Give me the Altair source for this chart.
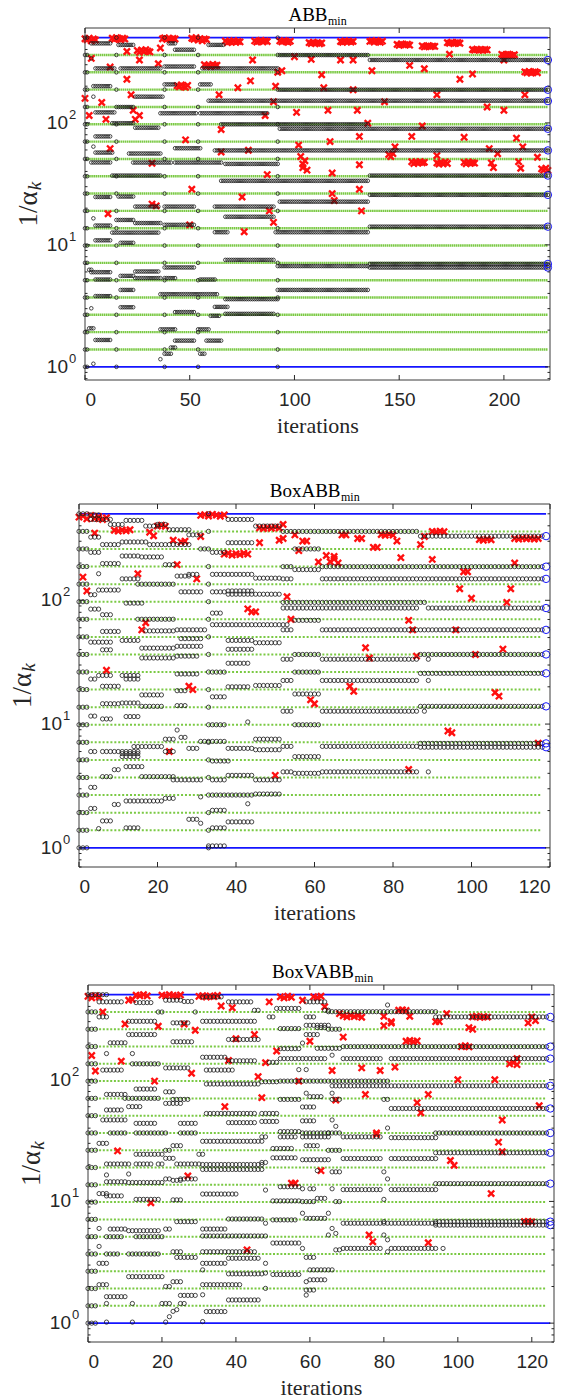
import altair as alt
import pandas as pd

alt.data_transformers.disable_max_rows()

# Spectrum of the Hessian: lambda_min = 1 ... lambda_max = 500
eigs = [1, 1.387, 1.925, 2.670, 3.700, 5.133, 7.120, 9.871, 13.69, 18.99,
        26.34, 36.52, 50.64, 70.25, 97.43, 135.1, 187.4, 259.9, 360.5, 500]

y_major = [1, 10, 100]
y_exps = ["0", "1", "2"]
y_minor = [0.7, 0.8, 0.9, 2, 3, 4, 5, 6, 7, 8, 9,
           20, 30, 40, 50, 60, 70, 80, 90, 200, 300, 400, 500]

# ---------------- ABB_min ----------------
# Ritz-like values: (first iteration, last iteration, value)
p1_runs = [
    (3, 12, 449), (5, 14, 280), (4, 12, 200), (5, 14, 122), (5, 12, 77.5),
    (5, 13, 57.1), (3, 12, 47.4), (3, 3, 338), (4, 4, 164), (4, 4, 63.9),
    (5, 12, 24.7), (5, 12, 14.4), (5, 12, 10.9), (3, 12, 5.97), (2, 3, 6.25),
    (5, 12, 5.2), (5, 12, 3.8), (5, 12, 1.66), (2, 4, 2.07), (3, 3, 3.02),
    (4, 4, 16.5), (4, 4, 1.06),
    (16, 23, 436), (17, 36, 280), (24, 37, 164), (16, 23, 135), (13, 23, 99.4),
    (24, 35, 91.3), (21, 36, 56.1), (23, 41, 47.3), (13, 36, 37.0),
    (16, 23, 24.9), (24, 35, 20.6), (15, 23, 16.0), (24, 36, 15.1), (13, 35, 12.6),
    (17, 23, 10.4), (24, 35, 6.05), (17, 23, 5.57), (24, 36, 5.34), (17, 23, 4.27),
    (17, 23, 3.08),
    (40, 43, 449), (43, 52, 398), (38, 52, 290), (38, 43, 207), (36, 53, 120),
    (43, 55, 62.0), (43, 65, 47.3), (38, 52, 20.6), (38, 52, 14.6), (38, 52, 6.53),
    (38, 43, 5.34), (36, 63, 3.94), (43, 52, 2.81), (36, 43, 2.03), (43, 52, 1.64),
    (41, 43, 1.44), (38, 41, 1.28), (36, 36, 1.155),
    (59, 66, 436), (56, 92, 280), (55, 60, 207), (59, 221, 152), (55, 87, 120),
    (65, 135, 97.4), (62, 221, 59.5), (67, 92, 46.1), (65, 135, 33.5),
    (62, 90, 20.6), (67, 90, 17.0), (62, 68, 12.7), (67, 90, 7.53), (55, 62, 5.2),
    (67, 92, 3.59), (62, 68, 3.1), (67, 90, 2.72), (60, 64, 2.62), (54, 59, 2.03),
    (58, 65, 1.64), (55, 57, 1.28),
    (93, 135, 360), (93, 221, 187), (93, 221, 89.5), (93, 135, 22.6),
    (91, 135, 12.7), (92, 135, 6.7), (92, 135, 4.27),
    (136, 221, 328), (136, 221, 37.0), (136, 221, 25.7), (136, 221, 14.1),
    (136, 221, 6.98), (136, 221, 6.52),
]
# iterations at which the whole spectrum is shown
p1_full = [0, 1, 15, 38, 54, 92]
# steplengths 1/alpha_k: (iteration, value)
p1_steps = [
    (0, 490), (1, 480), (2, 495), (3, 470), (4, 488), (5, 478),
    (13, 495), (14, 485), (15, 500), (16, 490), (17, 480), (18, 495), (19, 488),
    (37, 490), (38, 498), (39, 485), (40, 495), (41, 480), (42, 492), (43, 488),
    (51, 495), (52, 485), (53, 500), (54, 478), (55, 490), (56, 470), (57, 488), (58, 482),
    (67, 470), (68, 455), (69, 465), (70, 460), (71, 472), (72, 458), (73, 466), (74, 462),
    (81, 470), (82, 460), (83, 468), (84, 475), (85, 462), (86, 470), (87, 465),
    (93, 470), (94, 462), (95, 472), (96, 466), (97, 458), (98, 468),
    (107, 455), (108, 448), (109, 458), (110, 450), (111, 455), (112, 446), (113, 452),
    (122, 465), (123, 458), (124, 470), (125, 462), (126, 468), (127, 460), (128, 466),
    (136, 466), (137, 470), (138, 460), (139, 472), (140, 464), (141, 458), (142, 468),
    (149, 440), (150, 432), (151, 445), (152, 438), (153, 436), (154, 442), (155, 434),
    (161, 428), (162, 420), (163, 425), (164, 430), (165, 422), (166, 426), (167, 424),
    (173, 455), (174, 450), (175, 458), (176, 448), (177, 452), (178, 456), (179, 450),
    (185, 400), (186, 395), (187, 402), (188, 396), (189, 398), (190, 394), (191, 400), (192, 397),
    (199, 365), (200, 358), (201, 362), (202, 366), (203, 360), (204, 356), (205, 362),
    (210, 262), (211, 258), (212, 264), (213, 256), (214, 260), (215, 263), (216, 258),
    (3, 338), (20, 385), (25, 392), (26, 380), (27, 395), (28, 385), (29, 398), (30, 388),
    (31, 382), (26, 328), (35, 306), (36, 411),
    (57, 300), (58, 292), (59, 298), (60, 290), (61, 302), (62, 295), (63, 297),
    (80, 328), (92, 260), (20, 228), (79, 221), (0, 159), (8, 147), (12, 287), (22, 170),
    (44, 202), (45, 198), (46, 205), (47, 200), (48, 196), (49, 203),
    (73, 194), (91, 200), (64, 170), (90, 149), (2, 115), (10, 107), (23, 127), (24, 107),
    (26, 115), (65, 88.3), (86, 115), (48, 72.6), (12, 61.6), (65, 57.7), (78, 59.7),
    (32, 46.7), (51, 28.6), (75, 24.7), (87, 37.7), (11, 18.0), (32, 21.6), (34, 20.9),
    (88, 19.0), (50, 14.6), (76, 12.8), (90, 15.3),
    (100, 349), (108, 332), (122, 328), (128, 328), (200, 328), (174, 366),
    (94, 268), (113, 248), (137, 268), (155, 296), (162, 278), (179, 228), (185, 252),
    (114, 194), (128, 187), (168, 170), (210, 170), (143, 149), (192, 135),
    (101, 122), (116, 127), (130, 127), (200, 127), (135, 99.4), (161, 94.3),
    (102, 65.8), (117, 70.3), (131, 77.5), (156, 77.5), (181, 76.2), (206, 75.0),
    (148, 63.6), (145, 55), (146, 53), (147, 56), (168, 54), (193, 61.6), (197, 55.9),
    (209, 63.6), (216, 52.3), (103, 53), (104, 46), (105, 49), (106, 41), (104, 43),
    (156, 48), (157, 46.5), (158, 47.8), (159, 46.8), (160, 48.2), (161, 47), (162, 47.5),
    (168, 47), (169, 46), (170, 47.5), (171, 46.2), (172, 47.8), (173, 46.5),
    (181, 47.5), (182, 46.3), (183, 47.8), (184, 46.6), (185, 47.2), (186, 46.8),
    (194, 47), (195, 43), (207, 48), (208, 42.5), (131, 45.4), (118, 38.8),
    (218, 42), (219, 41), (220, 42.5), (221, 40.8),
    (118, 26.3), (119, 23.1), (131, 28.6), (132, 19.0),
]
p1_final = [328, 187, 151, 89.5, 59.5, 37.0, 25.7, 14.1, 6.98, 6.52]

# ---------------- BoxABB_min ----------------
p2_runs = [
    (3, 5, 490), (3, 8, 450), (8, 11, 410), (12, 16, 442), (17, 20, 398), (20, 22, 410),
    (23, 28, 372), (3, 5, 324), (28, 31, 338), (6, 10, 282), (11, 17, 296), (18, 23, 282),
    (24, 28, 282), (31, 32, 260), (34, 37, 244), (3, 5, 244), (11, 15, 228), (16, 21, 224),
    (6, 10, 198), (22, 24, 194), (5, 5, 164), (25, 28, 157), (28, 30, 162), (34, 44, 162),
    (45, 51, 151), (11, 15, 149), (15, 24, 135), (3, 4, 111), (5, 10, 121), (26, 31, 117),
    (34, 37, 117), (38, 44, 119), (38, 44, 112), (45, 51, 112), (12, 16, 94.9), (3, 5, 84.9),
    (6, 8, 76.5), (15, 24, 70.3), (34, 36, 78.8), (34, 53, 63.5), (6, 10, 56.0), (17, 24, 56.6),
    (25, 32, 57.7), (3, 8, 45.9), (11, 15, 47.4), (26, 31, 49.0), (6, 8, 39.8), (16, 24, 41.1),
    (25, 31, 42.5), (16, 24, 34.2), (25, 30, 35.4), (38, 44, 292), (38, 44, 450), (45, 51, 398),
    (38, 44, 47.4), (38, 44, 40.2), (38, 43, 31.0), (45, 51, 45.4),
    (52, 86, 360), (87, 118, 330), (55, 61, 260), (52, 54, 187), (62, 118, 187), (55, 61, 177),
    (52, 54, 149), (62, 118, 149), (52, 86, 96.2), (52, 86, 86.6), (89, 118, 86.6),
    (87, 88, 96.2), (55, 61, 68.9), (52, 54, 57.7), (62, 118, 57.7), (55, 61, 36.5),
    (87, 118, 36.5), (52, 54, 33.4), (62, 86, 33.4), (89, 89, 33.4), (55, 61, 26.3),
    (87, 118, 25.7), (52, 54, 22.5), (62, 86, 22.5), (89, 89, 22.5), (55, 61, 17.5),
    (87, 118, 13.9), (52, 54, 12.7), (62, 86, 12.7), (88, 88, 12.7), (55, 61, 9.87),
    (52, 54, 6.6), (62, 86, 6.6), (87, 118, 6.98), (87, 118, 6.5), (55, 61, 5.46),
    (52, 54, 4.11), (62, 86, 4.11), (89, 89, 4.11), (55, 61, 4.0),
    (5, 8, 24.7), (3, 4, 23.1), (11, 15, 24.7), (12, 15, 23.1), (25, 30, 25.4), (34, 37, 26.3),
    (6, 10, 20.2), (16, 21, 17.2), (25, 27, 18.6), (34, 37, 16.6), (38, 43, 20.0), (45, 51, 20.5),
    (6, 10, 14.6), (11, 15, 14.8), (16, 21, 13.9), (25, 27, 14.1), (3, 4, 11.6), (12, 15, 11.5),
    (6, 8, 11.0), (34, 37, 9.87), (43, 43, 10.4), (25, 25, 8.95), (22, 24, 7.55), (26, 27, 7.81),
    (31, 37, 7.24), (45, 51, 7.55), (14, 21, 6.58), (28, 30, 6.36), (38, 44, 6.36), (3, 4, 6.0),
    (6, 10, 6.0), (11, 15, 6.0), (11, 15, 5.77), (11, 15, 5.46), (22, 24, 6.0), (45, 51, 6.2),
    (34, 38, 5.03), (12, 16, 4.53), (9, 10, 4.28), (6, 8, 3.76), (16, 24, 3.76), (24, 31, 3.54),
    (34, 37, 3.54), (38, 44, 3.85), (45, 51, 3.54), (3, 4, 3.08), (34, 37, 2.67), (38, 44, 2.67),
    (45, 51, 2.72), (31, 31, 2.58), (12, 21, 2.39), (22, 24, 2.51), (9, 10, 2.24), (3, 4, 2.08),
    (34, 37, 2.01), (43, 43, 2.27), (6, 8, 1.65), (28, 30, 1.70), (38, 44, 1.62), (12, 15, 1.45),
    (31, 31, 1.58), (34, 37, 1.45), (5, 5, 1.43), (33, 37, 1.036),
]
p2_full = [0, 1, 2, 33]
p2_steps = [
    (0, 470), (1, 480), (2, 455), (3, 485), (4, 460), (5, 475), (6, 450), (7, 465),
    (31, 485), (32, 492), (33, 480), (34, 495), (35, 488), (36, 478), (37, 490),
    (9, 368), (10, 362), (11, 370), (12, 365), (13, 372),
    (46, 385), (47, 380), (48, 388), (49, 382), (50, 390), (51, 384),
    (18, 355), (19, 332), (20, 398), (21, 404), (22, 396), (24, 306), (26, 296), (27, 300),
    (31, 328), (4, 349), (5, 458),
    (37, 236), (38, 240), (39, 232), (40, 238), (41, 234), (42, 240), (43, 236),
    (46, 292), (51, 306), (25, 194), (15, 164), (1, 154), (2, 119), (30, 149), (43, 85.3),
    (44, 80.7), (45, 80.7), (53, 107), (54, 70.3), (17, 65.8), (16, 57.7), (7, 27.2),
    (52, 410), (55, 338), (57, 301), (58, 301), (52, 316), (67, 338), (68, 338), (71, 316),
    (72, 316), (77, 340), (78, 335), (79, 342), (80, 336), (81, 301), (87, 282), (88, 328),
    (90, 360), (91, 356), (92, 362), (93, 358),
    (102, 310), (103, 306), (104, 312), (105, 308),
    (111, 316), (112, 312), (113, 318), (114, 314), (115, 317), (116, 313), (117, 316),
    (56, 252), (75, 268), (76, 268), (82, 221), (90, 214), (61, 204), (63, 230), (64, 205),
    (65, 215), (66, 200), (65, 226), (111, 200), (98, 170), (99, 170), (97, 124), (100, 104),
    (110, 124), (109, 96.2), (84, 68.9), (85, 57.7), (96, 57.7), (73, 41.4), (74, 34.2),
    (86, 35.4), (101, 36.5), (108, 40.3), (69, 20.2), (70, 18.4), (59, 15.7), (60, 14.6),
    (106, 18.0), (107, 16.8), (94, 8.8), (95, 8.5), (117, 7.0), (84, 4.3),
    (28, 20.2), (29, 19.0), (23, 6.0), (50, 3.85),
]
p2_final = [330, 187, 149, 86.6, 57.7, 36.5, 25.7, 13.9, 6.98, 6.5]

# ---------------- BoxVABB_min ----------------
p3_runs = [
    (3, 5, 500), (3, 9, 436), (13, 17, 430), (21, 25, 450), (26, 28, 439), (31, 36, 479),
    (38, 44, 436), (45, 46, 372), (51, 57, 385), (19, 20, 360), (29, 29, 360), (3, 5, 328),
    (11, 18, 302), (23, 27, 293), (31, 45, 302), (49, 50, 328), (52, 57, 263), (11, 18, 235),
    (6, 10, 201), (23, 28, 205), (38, 46, 214), (5, 5, 164), (12, 12, 164), (4, 9, 120),
    (12, 19, 135), (21, 27, 125), (31, 37, 153), (38, 45, 143), (49, 51, 139), (52, 57, 180),
    (32, 39, 120), (32, 46, 92.2), (47, 51, 96.2), (5, 10, 75.7), (13, 18, 83.8), (21, 23, 79.5),
    (23, 27, 68.9), (10, 19, 70.3), (5, 9, 56.4), (11, 14, 60.1), (21, 25, 63.9), (32, 45, 52.8),
    (38, 45, 44.4), (4, 10, 46.7), (13, 18, 43.8), (25, 29, 43.8), (47, 51, 52.8), (47, 51, 45.4),
    (3, 5, 30.0), (6, 10, 36.5), (13, 19, 36.5), (20, 21, 36.5), (25, 29, 36.5), (31, 47, 31.2),
    (47, 48, 33.9), (50, 55, 27.2), (13, 20, 24.4), (21, 22, 26.3), (23, 25, 28.7), (30, 31, 24.4),
    (5, 9, 20.3), (10, 11, 20.3), (11, 11, 16.8), (13, 17, 20.3), (19, 20, 20.3), (21, 23, 22.6),
    (24, 30, 20.3), (31, 47, 20.1), (31, 47, 18.3), (47, 48, 20.9), (50, 56, 22.8), (5, 5, 16.5),
    (3, 5, 11.6), (5, 10, 14.5), (11, 20, 14.3), (21, 22, 15.3), (23, 25, 14.9), (25, 29, 15.3),
    (31, 40, 11.5), (5, 9, 11.1), (13, 19, 10.4), (23, 25, 10.3), (48, 48, 12.4), (50, 57, 10.1),
    (3, 3, 6.0), (6, 10, 5.93), (11, 19, 5.75), (21, 22, 5.93), (24, 29, 6.82), (31, 37, 5.93),
    (38, 47, 7.17), (48, 48, 6.62), (50, 56, 7.05), (5, 9, 5.13), (13, 20, 5.13), (31, 48, 5.2),
    (3, 3, 4.27), (5, 8, 3.70), (11, 19, 3.70), (23, 25, 3.86), (24, 29, 3.47), (31, 45, 3.86),
    (31, 37, 3.1), (38, 46, 3.41), (48, 48, 3.1), (50, 57, 4.55), (3, 5, 3.1), (11, 20, 2.41),
    (21, 22, 2.0), (23, 25, 2.19), (31, 31, 2.74), (38, 47, 2.54), (48, 48, 2.58), (50, 57, 2.51),
    (3, 5, 2.07), (5, 10, 1.65), (25, 29, 1.69), (31, 41, 2.07), (38, 46, 1.55), (48, 48, 1.93),
    (5, 5, 1.45), (12, 12, 1.45), (20, 22, 1.45), (24, 24, 1.29), (25, 26, 1.45), (31, 31, 1.71),
    (32, 37, 1.245), (5, 5, 1.02), (12, 12, 1.02), (21, 21, 1.02), (22, 22, 1.13), (23, 23, 1.25),
    (31, 31, 1.03),
    (52, 56, 33.9), (58, 65, 33.9), (65, 68, 36.5), (69, 79, 33.9), (82, 94, 33.4), (94, 124, 36.5),
    (59, 62, 28.7), (94, 124, 25.1), (65, 68, 26.3), (58, 65, 22.0), (69, 79, 22.5), (82, 94, 22.5),
    (62, 62, 17.9), (66, 68, 17.5), (81, 81, 15.3), (80, 80, 17.5), (94, 124, 14.0), (52, 57, 13.2),
    (58, 58, 12.7), (60, 61, 12.7), (66, 66, 12.7), (69, 79, 12.5), (82, 94, 12.5), (80, 80, 10.4),
    (58, 61, 9.97), (62, 64, 10.6), (67, 68, 9.97), (58, 58, 8.0), (59, 64, 7.26), (65, 65, 8.0),
    (66, 66, 6.0), (69, 94, 6.62), (94, 124, 6.82), (94, 124, 6.39), (80, 80, 6.82), (58, 58, 4.11),
    (67, 68, 4.0), (65, 65, 5.3), (67, 67, 5.46), (69, 79, 4.11), (82, 94, 4.11), (96, 96, 4.11),
    (80, 80, 5.3), (81, 81, 4.84), (81, 81, 3.86), (59, 61, 3.47), (60, 66, 2.74), (60, 64, 2.27),
    (59, 59, 2.19), (59, 61, 1.87), (59, 59, 1.70),
    (59, 64, 436), (59, 61, 328), (64, 65, 372), (65, 94, 362), (94, 124, 328), (81, 81, 411),
    (59, 65, 280), (65, 68, 260), (59, 62, 235), (62, 64, 268), (58, 58, 200), (62, 68, 181),
    (69, 124, 187), (52, 57, 149), (58, 64, 149), (66, 66, 159), (69, 79, 149), (82, 124, 149),
    (57, 57, 121), (59, 59, 121), (52, 57, 97.4), (58, 65, 97.4), (66, 81, 97.4), (66, 124, 89.0),
    (52, 57, 68.9), (59, 59, 77.5), (60, 63, 72.6), (66, 66, 77.5), (58, 61, 59.7), (66, 68, 68.9),
    (80, 81, 68.9), (82, 124, 58.0), (58, 61, 45.9), (66, 66, 46.7), (52, 57, 37.5), (58, 65, 36.5),
    (67, 67, 41.4), (81, 81, 40.1),
]
p3_full = [0, 1, 2]
p3_steps = [
    (0, 484), (1, 470), (2, 490), (3, 478), (11, 450), (12, 455), (13, 495), (14, 490),
    (15, 500), (16, 488), (20, 495), (21, 488), (22, 500), (23, 492), (24, 485), (25, 497),
    (30, 484), (31, 490), (32, 478), (33, 488), (34, 482), (35, 492),
    (36, 403), (39, 390), (49, 436), (52, 480), (53, 470), (54, 485), (55, 475),
    (58, 450), (61, 480), (62, 472), (63, 485), (64, 398),
    (69, 335), (70, 328), (71, 338), (72, 330), (73, 336), (74, 326), (68, 349), (80, 332),
    (82, 300), (84, 372), (85, 375), (86, 370), (87, 332), (94, 300), (95, 300), (97, 349),
    (104, 328), (105, 332), (106, 325), (107, 330), (108, 327), (119, 293), (120, 328),
    (121, 306), (80, 278), (82, 292), (103, 268), (104, 260), (69, 224), (60, 207),
    (86, 207), (87, 210), (88, 205), (89, 208), (101, 187), (102, 190), (103, 186),
    (114, 135), (115, 138), (116, 133), (116, 149), (66, 119), (74, 125), (79, 119),
    (83, 127), (100, 100), (110, 100), (57, 97.4), (67, 68), (75, 75.7), (89, 64.8),
    (90, 53.5), (92, 75.7), (122, 61.2), (112, 46.7), (78, 36.5),
    (1, 158), (2, 118), (9, 142), (10, 287), (18, 97.4), (19, 275), (26, 287), (28, 113),
    (29, 255), (37, 60.1), (38, 144), (40, 217), (45, 235), (46, 106), (47, 71.2), (48, 138),
    (51, 172), (4, 360), (8, 26.0), (17, 9.74), (27, 16.2), (43, 4.0), (78, 35.4), (111, 30.7),
    (112, 25.6), (98, 21.7), (99, 19.8), (63, 17.9), (55, 14.1), (56, 14.1), (109, 11.6),
    (118, 6.82), (119, 6.85), (120, 6.8), (76, 5.3), (77, 4.66), (92, 4.58),
]
p3_final = [328, 187, 149, 89.0, 58.0, 36.5, 25.1, 14.0, 6.82, 6.39]

GREEN = "#7ac943"
BLUE = "#1414ff"
RED = "#ff1010"
INK = "#262626"
FRAME = "#3a3a3a"
X_SHAPE = ("M-1,-0.58L-0.58,-1L0,-0.42L0.58,-1L1,-0.58L0.42,0L1,0.58L0.58,1"
           "L0,0.42L-0.58,1L-1,0.58L-0.42,0Z")


def ritz_frame(runs, full_iters):
    rows = []
    for k0, k1, v in runs:
        for k in range(k0, k1 + 1):
            rows.append({"k": k, "v": v})
    for k in full_iters:
        for v in eigs:
            rows.append({"k": k, "v": v})
    return pd.DataFrame(rows)


def panel(name, name_shift, x0, width, height, box_h, ylo, xmax, xticks, runs,
          full, steps, final, final_k, last_k, csize, dash, gwidth):
    # the axes box occupies [x0, x0 + width] x [0, box_h] inside the view
    x1 = x0 + width
    xs = alt.Scale(domain=[0, xmax], range=[x0, x1], nice=False, zero=False)
    ys = alt.Scale(type="log", domain=[ylo, 600], range=[box_h, 0], nice=False)
    xaxis = alt.Axis(values=xticks, ticks=False, domain=False, grid=False,
                     offset=box_h - height,
                     labelFont="Liberation Sans", labelFontSize=19,
                     labelColor=INK, labelPadding=10, title="iterations",
                     titleFont="Liberation Serif", titleFontSize=22,
                     titleFontWeight="normal", titleColor=INK, titlePadding=6)
    X = alt.X("k:Q", scale=xs, axis=xaxis)
    Y = alt.Y("v:Q", scale=ys, axis=None)

    inner = pd.DataFrame({"v": eigs[1:-1], "k": 0, "k2": last_k})
    outer = pd.DataFrame({"v": [eigs[0], eigs[-1]], "k": 0, "k2": final_k})
    green = alt.Chart(inner).mark_rule(
        color=GREEN, strokeWidth=gwidth, strokeDash=dash
    ).encode(x=X, x2="k2:Q", y=Y)
    blue = alt.Chart(outer).mark_rule(color=BLUE, strokeWidth=1.8).encode(
        x=X, x2="k2:Q", y=Y)

    sdf = pd.DataFrame(steps, columns=["k", "v"])
    red = alt.Chart(sdf).mark_point(
        shape=X_SHAPE, filled=True, color=RED, size=62, opacity=1
    ).encode(x=X, y=Y)

    cdf = ritz_frame(runs, full)
    ritz = alt.Chart(cdf).mark_point(
        shape="circle", filled=False, color="#1a1a1a", size=csize,
        strokeWidth=0.8, opacity=1
    ).encode(x=X, y=Y)

    fdf = pd.DataFrame({"k": final_k, "v": final})
    fin = alt.Chart(fdf).mark_point(
        shape="circle", filled=False, color=BLUE, size=55, strokeWidth=1,
        opacity=1
    ).encode(x=X, y=Y)

    one = pd.DataFrame({"a": [0]})
    # axes box
    frame = [
        alt.Chart(one).mark_rule(color=FRAME, strokeWidth=1).encode(
            x=alt.value(x0), x2=alt.value(x1), y=alt.value(0)),
        alt.Chart(one).mark_rule(color=FRAME, strokeWidth=1).encode(
            x=alt.value(x0), x2=alt.value(x1), y=alt.value(box_h)),
        alt.Chart(one).mark_rule(color=FRAME, strokeWidth=1).encode(
            x=alt.value(x0), y=alt.value(0), y2=alt.value(box_h)),
        alt.Chart(one).mark_rule(color=FRAME, strokeWidth=1).encode(
            x=alt.value(x1), y=alt.value(0), y2=alt.value(box_h)),
    ]

    # inward ticks on all four sides
    xt = pd.DataFrame({"k": xticks})
    xt_bot = alt.Chart(xt).mark_rule(color=INK, strokeWidth=1).encode(
        x=X, y=alt.value(box_h), y2=alt.value(box_h - 5))
    xt_top = alt.Chart(xt).mark_rule(color=INK, strokeWidth=1).encode(
        x=X, y=alt.value(0), y2=alt.value(5))
    ymj = pd.DataFrame({"v": y_major, "e": y_exps})
    ymn = pd.DataFrame({"v": [t for t in y_minor if t >= ylo]})
    yt = []
    for d, ln in ((ymj, 5), (ymn, 2.5)):
        yt.append(alt.Chart(d).mark_rule(color=INK, strokeWidth=1).encode(
            y=Y, x=alt.value(x0), x2=alt.value(x0 + ln)))
        yt.append(alt.Chart(d).mark_rule(color=INK, strokeWidth=1).encode(
            y=Y, x=alt.value(x1), x2=alt.value(x1 - ln)))

    ylab = alt.Chart(ymj).mark_text(
        text="10", font="Liberation Sans", fontSize=19, color=INK,
        align="right", baseline="middle"
    ).encode(y=Y, x=alt.value(x0 - 17))
    yexp = alt.Chart(ymj).mark_text(
        font="Liberation Sans", fontSize=13, color=INK, align="left",
        baseline="middle", dy=-8
    ).encode(y=Y, x=alt.value(x0 - 16), text="e:N")

    cx = x0 + width / 2 + name_shift
    t_main = alt.Chart(one).mark_text(
        text=name, font="Liberation Serif", fontSize=19, color="black",
        align="right", baseline="alphabetic"
    ).encode(x=alt.value(cx), y=alt.value(-7))
    t_sub = alt.Chart(one).mark_text(
        text="min", font="Liberation Serif", fontSize=12, color="black",
        align="left", baseline="alphabetic"
    ).encode(x=alt.value(cx + 0.5), y=alt.value(-3))

    # rotated axis title 1/alpha_k, both parts centred on their own anchor
    mid = box_h / 2
    ya = alt.Chart(one).mark_text(
        text="1/\u03b1", font="Liberation Serif", fontSize=27, color=INK,
        angle=270, align="center", baseline="middle"
    ).encode(x=alt.value(x0 - 56), y=alt.value(mid + 5))
    yk = alt.Chart(one).mark_text(
        text="k", font="Liberation Serif", fontStyle="italic", fontSize=19,
        color=INK, angle=270, align="center", baseline="middle", dy=6
    ).encode(x=alt.value(x0 - 56), y=alt.value(mid - 18))

    return alt.layer(
        green, blue, red, ritz, fin, *frame, xt_bot, xt_top, *yt, ylab, yexp,
        t_main, t_sub, ya, yk
    ).properties(width=x1, height=height)


p1 = panel("ABB", 10, 6, 465, 358, 352, 0.78, 222, [0, 50, 100, 150, 200],
           p1_runs, p1_full, p1_steps, p1_final, 221, 221, 13, [1.6, 0.495], 2.4)
p2 = panel("BoxABB", 26, 0, 471, 363, 363, 0.7, 120, [0, 20, 40, 60, 80, 100, 120],
           p2_runs, p2_full, p2_steps, p2_final, 119, 118, 18, [2.0, 1.925], 2.0)
p3 = panel("BoxVABB", 33, 9, 466, 357, 357, 0.7, 126, [0, 20, 40, 60, 80, 100, 120],
           p3_runs, p3_full, p3_steps, p3_final, 125, 124, 18, [2.0, 1.7], 2.0)

chart = alt.vconcat(p1, p2, p3, spacing=118, bounds="flush").configure_view(
    strokeWidth=0
).properties(
    padding={"left": 9, "top": 6, "right": 0, "bottom": 4},
    background="white",
)

chart.save("out.html", embed_options={"renderer": "svg", "actions": False})
